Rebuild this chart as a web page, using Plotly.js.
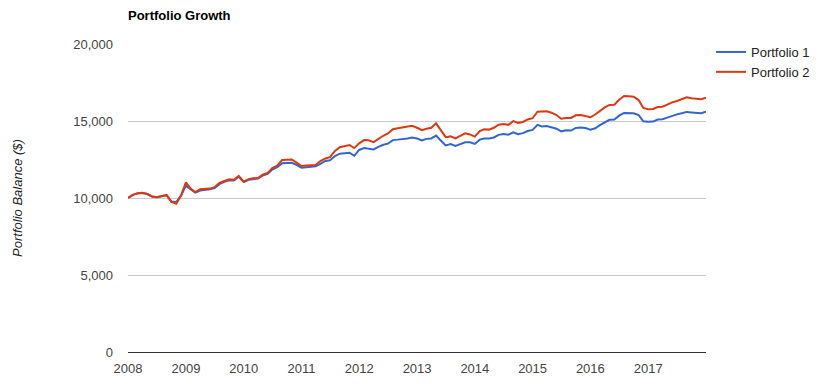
<!DOCTYPE html>
<html>
<head>
<meta charset="utf-8">
<script src="https://cdn.plot.ly/plotly-3.0.1.min.js"></script>
<style>html,body{margin:0;padding:0;background:#fff;}#chart{width:818px;height:391px;}</style>
</head>
<body>
<div id="chart"></div>
<script>
var startYear = 2008;
var monthCount = 121;
var seriesNames = ["Portfolio 1", "Portfolio 2"];
var yTickVals = [0, 5000, 10000, 15000, 20000];
var xTickLabels = ["2008","2009","2010","2011","2012","2013","2014","2015","2016","2017"];

var portfolio1 = [
10000,10200,10300,10330,10260,10100,10050,10130,10180,9780,9740,10150,
10800,10550,10350,10480,10500,10560,10650,10900,11050,11150,11130,11380,
11030,11180,11220,11260,11450,11560,11850,12000,12250,12290,12290,12150,
11970,12000,12010,12060,12220,12410,12450,12720,12880,12920,12940,12740,
13120,13250,13220,13150,13320,13460,13530,13760,13790,13810,13870,13920,
13860,13740,13840,13870,14050,13720,13410,13500,13380,13500,13620,13620,
13510,13790,13860,13870,13930,14100,14160,14110,14260,14140,14210,14350,
14420,14750,14650,14680,14610,14500,14330,14400,14380,14550,14570,14540,
14440,14530,14730,14900,15080,15100,15350,15520,15520,15500,15380,14980,
14950,14960,15090,15110,15220,15350,15430,15500,15590,15560,15550,15510,
15610];

var portfolio2 = [
10000,10200,10310,10340,10270,10100,10050,10140,10200,9750,9620,10150,
11020,10600,10380,10570,10570,10610,10700,10980,11100,11220,11180,11430,
11060,11220,11280,11300,11510,11630,11940,12100,12470,12500,12500,12300,
12080,12110,12120,12140,12400,12570,12650,13060,13300,13390,13440,13240,
13550,13760,13750,13630,13850,14040,14190,14470,14530,14590,14650,14690,
14560,14400,14500,14560,14850,14400,13950,14000,13870,14030,14200,14130,
13990,14350,14460,14440,14560,14760,14810,14750,14990,14880,14940,15100,
15180,15600,15620,15630,15540,15390,15150,15200,15200,15370,15390,15340,
15240,15420,15650,15880,16040,16060,16380,16620,16600,16580,16360,15850,
15760,15780,15910,15930,16060,16210,16300,16400,16540,16480,16450,16420,
16520];

var dates = [];
for (var i = 0; i < monthCount; i++) {
  var y = startYear + Math.floor(i / 12);
  var m = (i % 12) + 1;
  dates.push(y + "-" + (m < 10 ? "0" + m : m) + "-01");
}
var xTickVals = xTickLabels.map(function(s){ return s + "-01-01"; });

var traces = [
  {x: dates, y: portfolio1, name: seriesNames[0], type: "scatter", mode: "lines",
   line: {color: "#3366cc", width: 2}},
  {x: dates, y: portfolio2, name: seriesNames[1], type: "scatter", mode: "lines",
   line: {color: "#dc3912", width: 2}}
];

var layout = {
  width: 818, height: 391,
  margin: {l: 128, r: 112, t: 44, b: 39, pad: 0, autoexpand: false},
  paper_bgcolor: "#fff", plot_bgcolor: "#fff",
  font: {family: "Liberation Sans, Arial, sans-serif", size: 13, color: "#444"},
  title: {text: "<b>Portfolio Growth</b>", xref: "container", x: 128/818, xanchor: "left",
          yref: "container", y: 1 - 15/391, yanchor: "middle",
          font: {family: "Liberation Sans, Arial, sans-serif", size: 13, color: "#000"}},
  xaxis: {type: "date", range: ["2008-01-01", "2018-01-01"],
          tickvals: xTickVals, ticktext: xTickLabels,
          showgrid: false, zeroline: false, showline: false, ticks: "",
          ticklabelstandoff: 7, automargin: false,
          tickfont: {size: 13, color: "#444"}, fixedrange: true},
  yaxis: {range: [0, 20000], tickvals: yTickVals, tickformat: ",",
          showgrid: true, gridcolor: "#cccccc", gridwidth: 1,
          zeroline: true, zerolinecolor: "#333333", zerolinewidth: 1,
          showline: false, ticks: "", ticklabelstandoff: 14, automargin: false,
          tickfont: {size: 13, color: "#444"},
          title: {text: "<i>Portfolio Balance ($)</i>", standoff: 47,
                  font: {size: 13, color: "#222"}}, fixedrange: true},
  showlegend: true,
  legend: {xref: "container", x: 711/818, xanchor: "left",
           yref: "container", y: 1 - 37/391, yanchor: "top",
           font: {size: 13, color: "#222"}, bgcolor: "rgba(0,0,0,0)",
           tracegroupgap: 0}
};

Plotly.newPlot("chart", traces, layout, {displayModeBar: false, staticPlot: true});
</script>
</body>
</html>
